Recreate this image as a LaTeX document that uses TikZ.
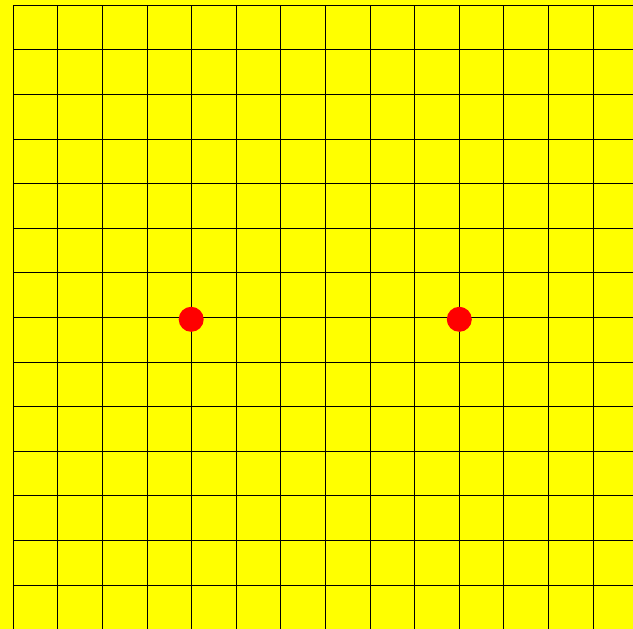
\documentclass[tikz,border=0pt]{standalone}
\definecolor{bgyellow}{RGB}{255,255,0}
\definecolor{dotred}{RGB}{255,0,0}
\begin{document}
\begin{tikzpicture}[x=1pt,y=-1pt,
  gridline/.style={black,line width=0.9pt},
  reddot/.style={circle,fill=dotred,inner sep=0pt,minimum size=25pt}]
\fill[bgyellow] (0,0) rectangle (633,629);
\useasboundingbox (0,0) rectangle (633,629);
\foreach \i in {0,...,13} {
  \draw[gridline] ({13.3+44.6*\i},5.3) -- ({13.3+44.6*\i},629);
  \draw[gridline] (13.3,{5.3+44.6*\i}) -- (633,{5.3+44.6*\i});
}
\node[reddot] (p1) at ({13.3+44.6*4-0.5},{5.3+44.6*7+1.8}) {};
\node[reddot] (p2) at ({13.3+44.6*10},{5.3+44.6*7+1.8}) {};
\end{tikzpicture}
\end{document}
